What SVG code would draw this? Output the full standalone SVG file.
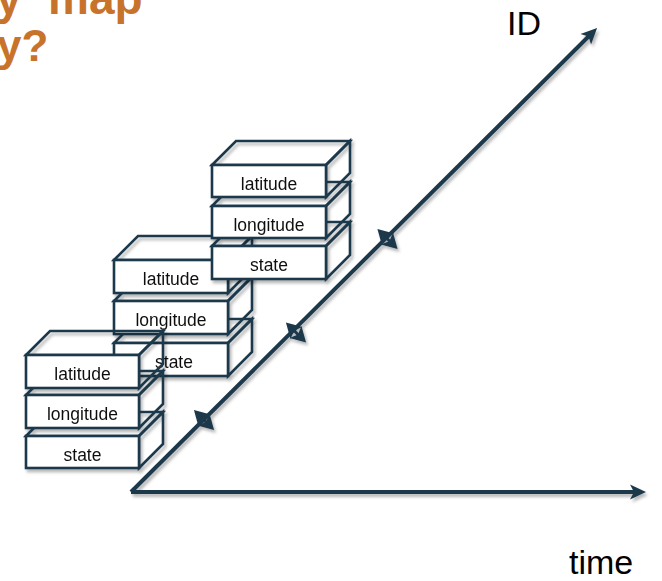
<svg xmlns="http://www.w3.org/2000/svg" width="662" height="581" viewBox="0 0 662 581">
  <defs>
    <filter id="shadow" x="-20%" y="-20%" width="140%" height="140%">
      <feDropShadow dx="2" dy="3" stdDeviation="1.6" flood-color="#000" flood-opacity="0.28"/>
    </filter>
    <!-- large stealth head for the axes -->
    <marker id="axisHead" markerUnits="userSpaceOnUse" viewBox="-8 -9 20 18" refX="0" refY="0" markerWidth="20" markerHeight="18" orient="auto" overflow="visible">
      <path d="M10,0 L-6,-7.5 L-2,0 L-6,7.5 Z" fill="#1f384c"/>
    </marker>
    <!-- head used on both ends of the tick arrows -->
    <marker id="tickHead" markerUnits="userSpaceOnUse" viewBox="-7 -10 19 20" refX="0" refY="0" markerWidth="19" markerHeight="20" orient="auto-start-reverse" overflow="visible">
      <path d="M10,0 L-5,-8.5 L-1.5,0 L-5,8.5 Z" fill="#1f384c"/>
    </marker>
  </defs>
  <style>
    .face { fill: none; stroke: #1f384c; stroke-width: 2.6; stroke-linejoin: miter; }
    .front { fill: #ffffff; stroke: #1f384c; stroke-width: 2.6; }
    .lbl { font-family: "Liberation Sans", Arial, sans-serif; font-size: 17.5px; fill: #111; text-anchor: middle; }
    .axis { stroke: #1f384c; stroke-width: 4; fill: none; }
    .tick { stroke: #1f384c; stroke-width: 3; fill: none; }
    .axlbl { font-family: "Liberation Sans", Arial, sans-serif; font-size: 34px; fill: #000; }
    .title { font-family: "Liberation Sans", Arial, sans-serif; font-weight: bold; fill: #c8732b; }
  </style>

  <!-- heading (runs off the top-left edge) -->
  <g id="title">
    <text class="title" font-size="46" y="14"><tspan x="-4">y</tspan><tspan x="48">map</tspan></text>
    <text class="title" font-size="44" x="-3" y="61">y?</text>
  </g>

  <!-- axes and the double-headed ticks on the ID axis -->
  <g id="connectors" filter="url(#shadow)">
    <line class="axis" x1="131" y1="492" x2="636" y2="492" marker-end="url(#axisHead)"/>
    <line class="axis" x1="131" y1="492" x2="590" y2="35" marker-end="url(#axisHead)"/>
    <line class="tick" x1="384.5" y1="236" x2="390.5" y2="242" marker-start="url(#tickHead)" marker-end="url(#tickHead)"/>
    <line class="tick" x1="293" y1="329.5" x2="299" y2="335.5" marker-start="url(#tickHead)" marker-end="url(#tickHead)"/>
    <line class="tick" x1="201" y1="417" x2="207" y2="423" marker-start="url(#tickHead)" marker-end="url(#tickHead)"/>
  </g>

  <g id="axis-labels">
    <text class="axlbl" x="507" y="35">ID</text>
    <text class="axlbl" x="569" y="574">time</text>
  </g>

  <!-- middle stack -->
  <g id="stack2" filter="url(#shadow)">
    <g id="s2-state">
      <polygon class="face" points="114,343 138,319 252,319 228,343"/>
      <polygon class="face" points="228,343 252,319 252,352 228,376"/>
      <rect class="front" x="114" y="343" width="114" height="33"/>
      <text class="lbl" x="174" y="368">state</text>
    </g>
    <g id="s2-longitude">
      <polygon class="face" points="114,301 138,277 252,277 228,301"/>
      <polygon class="face" points="228,301 252,277 252,310 228,334"/>
      <rect class="front" x="114" y="301" width="114" height="33"/>
      <text class="lbl" x="171" y="326">longitude</text>
    </g>
    <g id="s2-latitude">
      <polygon class="face" points="114,260 138,236 252,236 228,260"/>
      <polygon class="face" points="228,260 252,236 252,269 228,293"/>
      <rect class="front" x="114" y="260" width="114" height="33"/>
      <text class="lbl" x="171" y="285">latitude</text>
    </g>
  </g>

  <!-- upper stack -->
  <g id="stack3" filter="url(#shadow)">
    <g id="s3-state">
      <polygon class="face" points="212,246 236,222 350,222 326,246"/>
      <polygon class="face" points="326,246 350,222 350,255 326,279"/>
      <rect class="front" x="212" y="246" width="114" height="33"/>
      <text class="lbl" x="269" y="271">state</text>
    </g>
    <g id="s3-longitude">
      <polygon class="face" points="212,206 236,182 350,182 326,206"/>
      <polygon class="face" points="326,206 350,182 350,214 326,238"/>
      <rect class="front" x="212" y="206" width="114" height="32"/>
      <text class="lbl" x="269" y="231">longitude</text>
    </g>
    <g id="s3-latitude">
      <polygon class="face" points="212,165 236,141 350,141 326,165"/>
      <polygon class="face" points="326,165 350,141 350,173 326,197"/>
      <rect class="front" x="212" y="165" width="114" height="32"/>
      <text class="lbl" x="269" y="190">latitude</text>
    </g>
  </g>

  <!-- lower stack -->
  <g id="stack1" filter="url(#shadow)">
    <g id="s1-state">
      <polygon class="face" points="26,436 50,412 163,412 139,436"/>
      <polygon class="face" points="139,436 163,412 163,444 139,468"/>
      <rect class="front" x="26" y="436" width="113" height="32"/>
      <text class="lbl" x="82.5" y="461">state</text>
    </g>
    <g id="s1-longitude">
      <polygon class="face" points="26,395 50,371 163,371 139,395"/>
      <polygon class="face" points="139,395 163,371 163,404 139,428"/>
      <rect class="front" x="26" y="395" width="113" height="33"/>
      <text class="lbl" x="82.5" y="420">longitude</text>
    </g>
    <g id="s1-latitude">
      <polygon class="face" points="26,355 50,331 163,331 139,355"/>
      <polygon class="face" points="139,355 163,331 163,364 139,388"/>
      <rect class="front" x="26" y="355" width="113" height="33"/>
      <text class="lbl" x="82.5" y="380">latitude</text>
    </g>
  </g>
</svg>
